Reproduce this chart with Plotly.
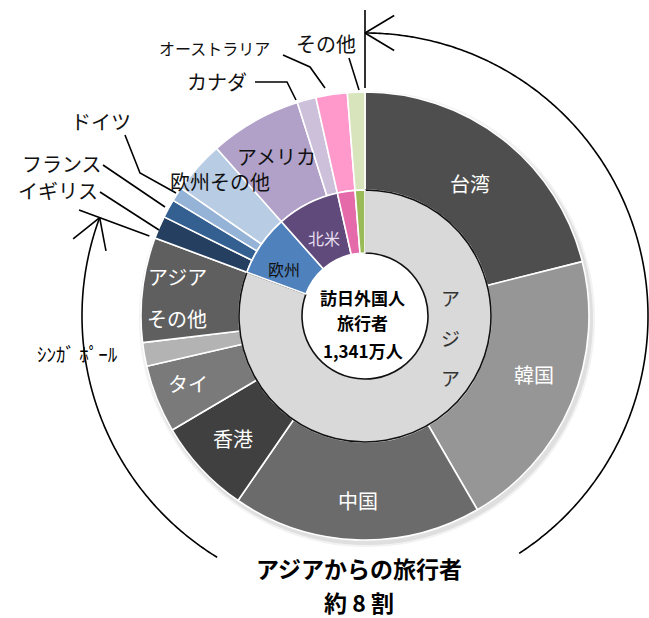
import math
import plotly.graph_objects as go

# ---------------- data (万人, 2014) ----------------
outer_labels = ["台湾", "韓国", "中国", "香港", "タイ", "シンガポール", "アジアその他",
                "イギリス", "フランス", "ドイツ", "欧州その他",
                "アメリカ", "カナダ", "オーストラリア", "その他"]
outer_values = [283.0, 275.5, 240.9, 92.6, 65.8, 22.8, 101.3,
                22.0, 17.9, 14.0, 50.9,
                89.2, 18.3, 30.3, 16.9]
outer_colors = ["#4e4e4e", "#969696", "#6b6b6b", "#404040", "#7a7a7a", "#b3b3b3", "#5f5f5f",
                "#243f60", "#335f91", "#95b3d7", "#b8cce4",
                "#b1a0c7", "#ccc0da", "#ff99cc", "#d8e4bc"]

inner_labels = ["アジア", "欧州", "北米", "オセアニア", "その他"]
inner_groups = [7, 4, 2, 1, 1]  # number of outer items in each inner group
inner_colors = ["#d9d9d9", "#4f81bd", "#604a7b", "#e46aa9", "#9bbb59"]

inner_values = []
i0 = 0
for n in inner_groups:
    inner_values.append(round(sum(outer_values[i0:i0 + n]), 1))
    i0 += n
total = sum(outer_values)

# ---------------- geometry ----------------
W, H = 649, 618
CX, CY = 365, 316
R_OUT, R_MID, R_HOLE = 224, 126, 63
FONT = "Noto Sans CJK JP"


def px(x):
    return x / W


def py(y):
    return 1 - y / H


def dom(r, dx=0, dy=0):
    return dict(x=[(CX + dx - r) / W, (CX + dx + r) / W],
                y=[1 - (CY + dy + r) / H, 1 - (CY + dy - r) / H])


def polar(deg, r):
    a = math.radians(deg)
    return CX + r * math.sin(a), CY - r * math.cos(a)


fig = go.Figure()

# soft shadow behind the outer ring
for k, alpha in [(4, 0.05), (2, 0.08)]:
    fig.add_trace(go.Pie(values=[1], domain=dom(R_OUT + k, dx=2, dy=3), hole=(R_MID) / (R_OUT + k),
                         marker=dict(colors=[f"rgba(0,0,0,{alpha})"], line=dict(width=0)),
                         textinfo="none", hoverinfo="skip", showlegend=False, sort=False))

fig.add_trace(go.Pie(
    labels=outer_labels, values=outer_values, sort=False, direction="clockwise", rotation=0,
    domain=dom(R_OUT), hole=R_MID / R_OUT,
    marker=dict(colors=outer_colors, line=dict(color="white", width=1.6)),
    textinfo="none", showlegend=False, hoverinfo="label+value"))

fig.add_trace(go.Pie(
    labels=inner_labels, values=inner_values, sort=False, direction="clockwise", rotation=0,
    domain=dom(R_MID), hole=R_HOLE / R_MID,
    marker=dict(colors=inner_colors,
                line=dict(color=["#111111", "white", "white", "white", "white"],
                          width=[1.6, 1.6, 1.6, 1.6, 1.6])),
    textinfo="none", showlegend=False, hoverinfo="label+value"))

# ---------------- annotations ----------------
ann = []


def t(x, y, s, size=20, color="#111111", bold=False):
    ann.append(dict(x=px(x), y=py(y), xref="paper", yref="paper", text=(f"<b>{s}</b>" if bold else s),
                    showarrow=False, xanchor="center", yanchor="middle",
                    font=dict(family=FONT, size=size, color=color)))


# outer ring labels inside slices
t(470, 183, outer_labels[0], 20, "white")
t(534, 374, outer_labels[1], 20, "white")
t(358, 500, outer_labels[2], 20, "white")
t(233, 438, outer_labels[3], 20, "white")
t(188, 383, outer_labels[4], 20, "white")
t(177, 276, "アジア", 20, "white")
t(177, 318, "その他", 20, "white")
t(220, 182, outer_labels[10], 20, "#111111")
t(276, 156, outer_labels[11], 20, "#111111")
# outside labels
t(101, 122, outer_labels[9], 20)
t(62, 164, outer_labels[8], 20)
t(58, 191, outer_labels[7], 20)
t(217, 82, outer_labels[12], 20)
t(214, 48, outer_labels[13], 16)
t(326, 43, outer_labels[14], 20)
t(77, 353, "ｼﾝｶﾞ ﾎﾟｰﾙ", 19, "#000000")
# inner ring
t(284, 269, inner_labels[1], 16, "#111111")
t(324, 238, inner_labels[2], 16, "#e6ddf0")
for ch, yy in zip(inner_labels[0], [297, 337, 378]):
    t(450, yy, ch, 19, "#333333")
# center
t(363, 297, "訪日外国人", 17, "black", True)
t(363, 323, "旅行者", 17, "black", True)
t(363, 350, f"{total:,.0f}万人", 17, "black", True)
# bottom
t(359, 568, "アジアからの旅行者", 23, "black", True)
t(359, 602, "約 8 割", 23, "black", True)

# ---------------- shapes ----------------
shapes = []


def path(points, width=1.6):
    d = "M " + " L ".join(f"{px(x):.5f} {py(y):.5f}" for x, y in points)
    shapes.append(dict(type="path", path=d, xref="paper", yref="paper",
                       line=dict(color="black", width=width)))


# leader lines
path([(359, 90), (349, 58)])
path([(325, 88), (310, 67), (283, 55)])
path([(296, 100), (287, 82), (255, 82)])
path([(176, 193), (140, 173), (125, 135)])
path([(165, 207), (103, 165)])
path([(159, 230), (100, 192)])

# Asia arc with arrows
asia_deg = inner_values[0] / total * 360
R_ARC = 283
gap_a, gap_b = 147, 211.5
path([polar(a / 2, R_ARC) for a in range(0, int(gap_a * 2) + 1)])
n = int((asia_deg - gap_b) * 2)
path([polar(gap_b + (asia_deg - gap_b) * k / n, R_ARC) for k in range(n + 1)])
# radial ticks at both ends
path([polar(0, 228), polar(0, 306)])
path([polar(asia_deg, 230), polar(asia_deg, 305)])


def arrow_head(deg, sign):
    tx, ty = polar(deg, R_ARC)
    a = math.radians(deg)
    # travel direction (clockwise tangent) times sign
    dx, dy = math.cos(a) * sign, math.sin(a) * sign
    bx, by = -dx, -dy
    L, phi = 34, math.radians(31)
    for s in (1, -1):
        c, sn = math.cos(s * phi), math.sin(s * phi)
        ex, ey = bx * c - by * sn, bx * sn + by * c
        path([(tx + L * ex, ty + L * ey), (tx, ty)])


arrow_head(0, -1)
arrow_head(asia_deg, 1)

fig.update_layout(width=W, height=H, margin=dict(l=0, r=0, t=0, b=0),
                  paper_bgcolor="white", plot_bgcolor="white",
                  annotations=ann, shapes=shapes, showlegend=False)

fig.write_html("out.html")
